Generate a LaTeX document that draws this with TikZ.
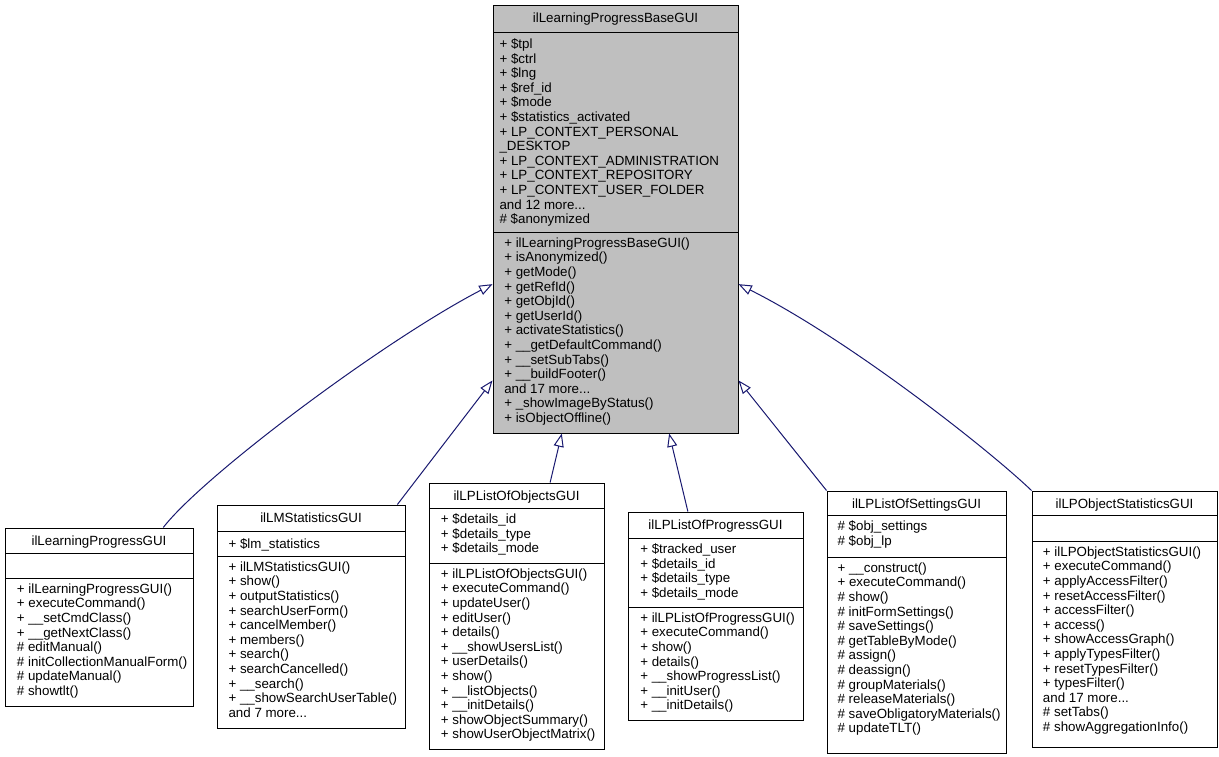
\documentclass[tikz,border=0pt]{standalone}
\usepackage{fontspec}
\setmainfont{Liberation Sans}
\usetikzlibrary{arrows.meta,fit,calc}
\definecolor{edgeblue}{HTML}{191970}
\definecolor{basegray}{HTML}{BFBFBF}
\newcommand\ustrut{\rule{0pt}{8.5pt}}
\tikzset{
  classbox/.style={draw=black, line width=0.75pt, inner sep=0pt},
  sepline/.style={draw=black, line width=0.75pt},
  fieldtext/.style={anchor=north west, inner sep=0pt, align=left,
    font=\fontsize{10}{10.95}\selectfont, execute at begin node=\ustrut},
  titletext/.style={anchor=base, inner sep=0pt, font=\fontsize{10}{10.95}\selectfont},
  inherit/.style={draw=edgeblue, line width=0.75pt,
    -{Triangle[length=10pt,width=7.5pt,fill=white]}},
}
\begin{document}
\begin{tikzpicture}[x=0.75pt,y=-0.75pt]
\useasboundingbox (0,0) rectangle (1219,756);
\fill[white] (0,0) rectangle (1219,756);

% ---------- base class ----------
\node[classbox, fill=basegray, fit={(493,6)(738,433)}] (base) {};
\draw[sepline] (493,33) -- (738,33);
\draw[sepline] (493,232) -- (738,232);
\node[titletext] (base-t) at (615.5,23) {ilLearningProgressBaseGUI};
\node[fieldtext] (base-a) at (499.3,38.4) {+ \$tpl\\
+ \$ctrl\\
+ \$lng\\
+ \$ref\_id\\
+ \$mode\\
+ \$statistics\_activated\\
+ LP\_CONTEXT\_PERSONAL\\
\_DESKTOP\\
+ LP\_CONTEXT\_ADMINISTRATION\\
+ LP\_CONTEXT\_REPOSITORY\\
+ LP\_CONTEXT\_USER\_FOLDER\\
and 12 more...\\
\# \$anonymized};
\node[fieldtext] (base-m) at (504,237.4) {+ ilLearningProgressBaseGUI()\\
+ isAnonymized()\\
+ getMode()\\
+ getRefId()\\
+ getObjId()\\
+ getUserId()\\
+ activateStatistics()\\
+ \_\_getDefaultCommand()\\
+ \_\_setSubTabs()\\
+ \_\_buildFooter()\\
and 17 more...\\
+ \_showImageByStatus()\\
+ isObjectOffline()};

% ---------- ilLearningProgressGUI ----------
\node[classbox, fill=white, fit={(5,528)(193,706)}] (lp) {};
\draw[sepline] (5,553) -- (193,553);
\draw[sepline] (5,578) -- (193,578);
\node[titletext] (lp-t) at (99,545) {ilLearningProgressGUI};
\node[fieldtext] (lp-m) at (16.7,583.4) {+ ilLearningProgressGUI()\\
+ executeCommand()\\
+ \_\_setCmdClass()\\
+ \_\_getNextClass()\\
\# editManual()\\
\# initCollectionManualForm()\\
\# updateManual()\\
\# showtlt()};

% ---------- ilLMStatisticsGUI ----------
\node[classbox, fill=white, fit={(217,505)(405,728)}] (lm) {};
\draw[sepline] (217,531) -- (405,531);
\draw[sepline] (217,556) -- (405,556);
\node[titletext] (lm-t) at (311,522) {ilLMStatisticsGUI};
\node[fieldtext] (lm-a) at (228.3,536.4) {+ \$lm\_statistics};
\node[fieldtext] (lm-m) at (228.3,561.4) {+ ilLMStatisticsGUI()\\
+ show()\\
+ outputStatistics()\\
+ searchUserForm()\\
+ cancelMember()\\
+ members()\\
+ search()\\
+ searchCancelled()\\
+ \_\_search()\\
+ \_\_showSearchUserTable()\\
and 7 more...};

% ---------- ilLPListOfObjectsGUI ----------
\node[classbox, fill=white, fit={(429,483)(604,749)}] (obj) {};
\draw[sepline] (429,508) -- (604,508);
\draw[sepline] (429,563) -- (604,563);
\node[titletext] (obj-t) at (516.5,500) {ilLPListOfObjectsGUI};
\node[fieldtext] (obj-a) at (440.7,513.4) {+ \$details\_id\\
+ \$details\_type\\
+ \$details\_mode};
\node[fieldtext] (obj-m) at (440.7,568.4) {+ ilLPListOfObjectsGUI()\\
+ executeCommand()\\
+ updateUser()\\
+ editUser()\\
+ details()\\
+ \_\_showUsersList()\\
+ userDetails()\\
+ show()\\
+ \_\_listObjects()\\
+ \_\_initDetails()\\
+ showObjectSummary()\\
+ showUserObjectMatrix()};

% ---------- ilLPListOfProgressGUI ----------
\node[classbox, fill=white, fit={(628,512)(803,720)}] (prog) {};
\draw[sepline] (628,538) -- (803,538);
\draw[sepline] (628,607) -- (803,607);
\node[titletext] (prog-t) at (715.5,529) {ilLPListOfProgressGUI};
\node[fieldtext] (prog-a) at (640,543.4) {+ \$tracked\_user\\
+ \$details\_id\\
+ \$details\_type\\
+ \$details\_mode};
\node[fieldtext] (prog-m) at (640,612.4) {+ ilLPListOfProgressGUI()\\
+ executeCommand()\\
+ show()\\
+ details()\\
+ \_\_showProgressList()\\
+ \_\_initUser()\\
+ \_\_initDetails()};

% ---------- ilLPListOfSettingsGUI ----------
\node[classbox, fill=white, fit={(827,491)(1006,753)}] (set) {};
\draw[sepline] (827,515) -- (1006,515);
\draw[sepline] (827,557) -- (1006,557);
\node[titletext] (set-t) at (916.5,508) {ilLPListOfSettingsGUI};
\node[fieldtext] (set-a) at (837.3,520.4) {\# \$obj\_settings\\
\# \$obj\_lp};
\node[fieldtext] (set-m) at (837.3,562.4) {+ \_\_construct()\\
+ executeCommand()\\
\# show()\\
\# initFormSettings()\\
\# saveSettings()\\
\# getTableByMode()\\
\# assign()\\
\# deassign()\\
\# groupMaterials()\\
\# releaseMaterials()\\
\# saveObligatoryMaterials()\\
\# updateTLT()};

% ---------- ilLPObjectStatisticsGUI ----------
\node[classbox, fill=white, fit={(1032,491)(1217,747)}] (ostat) {};
\draw[sepline] (1032,515) -- (1217,515);
\draw[sepline] (1032,541) -- (1217,541);
\node[titletext] (ostat-t) at (1124.5,508) {ilLPObjectStatisticsGUI};
\node[fieldtext] (ostat-m) at (1042.7,546.4) {+ ilLPObjectStatisticsGUI()\\
+ executeCommand()\\
+ applyAccessFilter()\\
+ resetAccessFilter()\\
+ accessFilter()\\
+ access()\\
+ showAccessGraph()\\
+ applyTypesFilter()\\
+ resetTypesFilter()\\
+ typesFilter()\\
and 17 more...\\
\# setTabs()\\
\# showAggregationInfo()};

% ---------- inheritance connectors ----------
\draw[inherit] ($(lp.north west)!0.84!(lp.north east)$)
  .. controls (203,476) and (383,341) ..
  ($(base.north west)!0.651!(base.south west)$);
\draw[inherit] ($(lm.north west)!0.957!(lm.north east)$)
  -- ($(base.north west)!0.876!(base.south west)$);
\draw[inherit] ($(obj.north west)!0.691!(obj.north east)$)
  -- ($(base.south west)!0.2816!(base.south east)$);
\draw[inherit] ($(prog.north west)!0.343!(prog.north east)$)
  -- ($(base.south west)!0.718!(base.south east)$);
\draw[inherit] (set.north west)
  -- ($(base.north east)!0.876!(base.south east)$);
\draw[inherit] (ostat.north west)
  .. controls (987,448) and (848,339) ..
  ($(base.north east)!0.651!(base.south east)$);
\end{tikzpicture}
\end{document}
